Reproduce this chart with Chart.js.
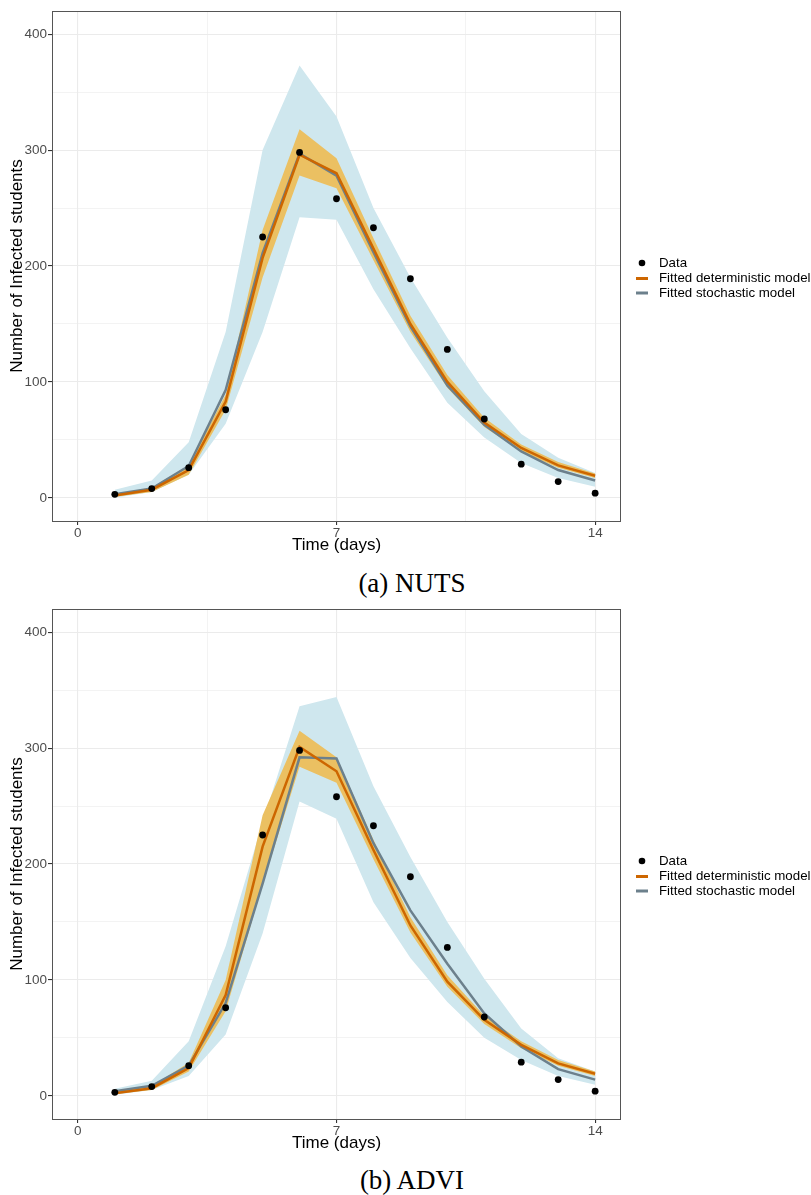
<!DOCTYPE html>
<html>
<head>
<meta charset="utf-8">
<script src="https://cdn.jsdelivr.net/npm/chart.js@4.4.1/dist/chart.umd.min.js"></script>
<style>
  body { margin: 0; background: #fff; width: 811px; height: 1195px; overflow: hidden; position: relative; }
  .panel { position: absolute; left: 0; width: 811px; height: 560px; }
  .caption { position: absolute; left: 0; width: 798px; padding-left: 13px; text-align: center;
             font-family: "Liberation Serif", "Times New Roman", serif; font-size: 27px; line-height: 30px; color: #000; }
</style>
</head>
<body>
<div class="panel" style="top:0"><canvas id="chartNUTS"></canvas></div>
<div class="caption" style="top:568px">(a) NUTS</div>
<div class="panel" style="top:598px"><canvas id="chartADVI"></canvas></div>
<div class="caption" style="top:1165px">(b) ADVI</div>

<script>
const days = [1, 2, 3, 4, 5, 6, 7, 8, 9, 10, 11, 12, 13, 14];
const observed = [3, 8, 26, 76, 225, 298, 258, 233, 189, 128, 68, 29, 14, 4];

// (a) NUTS
const nutsDet   = [2, 7, 24, 83, 207, 296, 280, 215, 150, 100, 65, 43, 28, 19];
const nutsDetLo = [1, 5, 20, 76, 190, 278, 267, 205, 143, 95, 61, 40, 26, 17];
const nutsDetHi = [3, 9, 28, 89, 231, 318, 293, 224, 157, 106, 69, 46, 31, 21];
const nutsSto   = [3, 8, 27.5, 93, 211, 297, 278, 212, 148, 97, 63, 40, 24, 15];
const nutsStoLo = [0, 5, 20, 64, 143, 242, 240, 180, 129, 82, 52, 30, 17, 9.5];
const nutsStoHi = [7, 15, 48, 143, 300, 373, 329, 250, 190, 138, 92, 55, 34.5, 21.5];

// (b) ADVI
const adviDet   = [2.3, 6.6, 24, 87, 215, 301, 280, 212, 147, 98.5, 65.5, 44, 28, 19];
const adviDetLo = [1.5, 5, 21, 73, 182, 284, 270, 204, 141, 94, 62, 41, 26, 17];
const adviDetHi = [3.5, 8.5, 28.5, 100, 242, 315, 292, 221, 154, 104, 69, 47, 31, 21];
const adviSto   = [4, 8.6, 26, 80, 183, 292, 291, 218, 160, 114, 71, 42.5, 23, 14];
const adviStoLo = [1, 5, 17, 53, 140, 254, 239, 167, 119, 81, 50, 31, 17, 9.5];
const adviStoHi = [6, 13, 47, 129, 236, 336, 344, 267, 206, 150, 101, 58, 32.5, 21];

const xTicks = [0, 3.5, 7, 10.5, 14];
const yTicks = [0, 50, 100, 150, 200, 250, 300, 350, 400];
const legendLabels = ["Data", "Fitted deterministic model", "Fitted stochastic model"];

const ORANGE = "#cd6600";
const SLATE = "#6c808c";
const BAND_ORANGE = "#ebc062";
const BAND_BLUE = "#cfe7ee";
const GRID = "#ebebeb";

const pts = arr => days.map((d, i) => ({ x: d, y: arr[i] }));

// panel border + legend, ggplot style
const frameAndLegend = {
    id: "frameAndLegend",
    afterDraw(chart) {
        const { ctx, chartArea: a } = chart;
        ctx.save();
        ctx.strokeStyle = "#555";
        ctx.lineWidth = 1;
        ctx.strokeRect(a.left + 0.5, a.top + 0.5, a.right - a.left - 1, a.bottom - a.top);

        const x0 = a.right + 15, tx = a.right + 38;
        const rows = [a.top + 252, a.top + 267.5, a.top + 282];
        ctx.font = "13.3px 'Liberation Sans', Arial, sans-serif";
        ctx.textBaseline = "middle";
        ctx.fillStyle = "#000";
        ctx.beginPath();
        ctx.arc(x0 + 6, rows[0], 3.3, 0, Math.PI * 2);
        ctx.fill();
        [ORANGE, SLATE].forEach((c, i) => {
            ctx.strokeStyle = c;
            ctx.lineWidth = 3;
            ctx.beginPath();
            ctx.moveTo(x0, rows[i + 1]);
            ctx.lineTo(x0 + 12, rows[i + 1]);
            ctx.stroke();
        });
        ctx.fillStyle = "#000";
        legendLabels.forEach((t, i) => ctx.fillText(t, tx, rows[i]));
        ctx.restore();
    }
};

function drawChart(id, det, detLo, detHi, sto, stoLo, stoHi) {
    const band = (arr, color, fill) => ({
        type: "line", data: pts(arr), borderWidth: 0, pointRadius: 0,
        backgroundColor: color, fill: fill
    });
    return new Chart(document.getElementById(id), {
        type: "line",
        data: {
            datasets: [
                { label: legendLabels[0], type: "scatter", data: pts(observed), backgroundColor: "#000",
                  borderWidth: 0, pointRadius: 3.4 },
                { label: legendLabels[1], data: pts(det), borderColor: ORANGE, borderWidth: 2.5,
                  pointRadius: 0, fill: false, tension: 0 },
                { label: legendLabels[2], data: pts(sto), borderColor: SLATE, borderWidth: 2.5,
                  pointRadius: 0, fill: false, tension: 0 },
                band(detLo, BAND_ORANGE, false),
                band(detHi, BAND_ORANGE, "-1"),
                band(stoLo, BAND_BLUE, false),
                band(stoHi, BAND_BLUE, "-1")
            ]
        },
        options: {
            responsive: true,
            maintainAspectRatio: false,
            animation: false,
            layout: { padding: { top: 11, right: 190, left: 0, bottom: 0 } },
            plugins: { legend: { display: false }, tooltip: { enabled: false } },
            scales: {
                x: {
                    type: "linear", min: -0.7, max: 14.7,
                    afterBuildTicks: s => { s.ticks = xTicks.map(v => ({ value: v })); },
                    afterFit: s => { s.height = 39; },
                    border: { display: false },
                    grid: {
                        color: GRID,
                        lineWidth: c => (c.tick && c.tick.value % 7 === 0) ? 1.1 : 0.6,
                        tickColor: c => (c.tick && c.tick.value % 7 === 0) ? "#333" : "rgba(0,0,0,0)",
                        tickLength: 4
                    },
                    ticks: {
                        color: "#4d4d4d", padding: 0, maxRotation: 0,
                        font: { family: "'Liberation Sans', Arial, sans-serif", size: 13.5 },
                        callback: v => (v % 7 === 0 ? v : "")
                    },
                    title: {
                        display: true, text: "Time (days)", color: "#000",
                        font: { family: "'Liberation Sans', Arial, sans-serif", size: 17 },
                        padding: { top: 0, bottom: 4 }
                    }
                },
                y: {
                    type: "linear", min: -20, max: 420,
                    afterBuildTicks: s => { s.ticks = yTicks.map(v => ({ value: v })); },
                    afterFit: s => { s.width = 52; },
                    border: { display: false },
                    grid: {
                        color: GRID,
                        lineWidth: c => (c.tick && c.tick.value % 100 === 0) ? 1.1 : 0.6,
                        tickColor: c => (c.tick && c.tick.value % 100 === 0) ? "#333" : "rgba(0,0,0,0)",
                        tickLength: 4
                    },
                    ticks: {
                        color: "#4d4d4d", padding: 1,
                        font: { family: "'Liberation Sans', Arial, sans-serif", size: 13.5 },
                        callback: v => (v % 100 === 0 ? v : "")
                    },
                    title: {
                        display: true, text: "Number of Infected students", color: "#000",
                        font: { family: "'Liberation Sans', Arial, sans-serif", size: 17 },
                        padding: { top: 7, bottom: 0 }
                    }
                }
            }
        },
        plugins: [frameAndLegend]
    });
}

drawChart("chartNUTS", nutsDet, nutsDetLo, nutsDetHi, nutsSto, nutsStoLo, nutsStoHi);
drawChart("chartADVI", adviDet, adviDetLo, adviDetHi, adviSto, adviStoLo, adviStoHi);
</script>
</body>
</html>
